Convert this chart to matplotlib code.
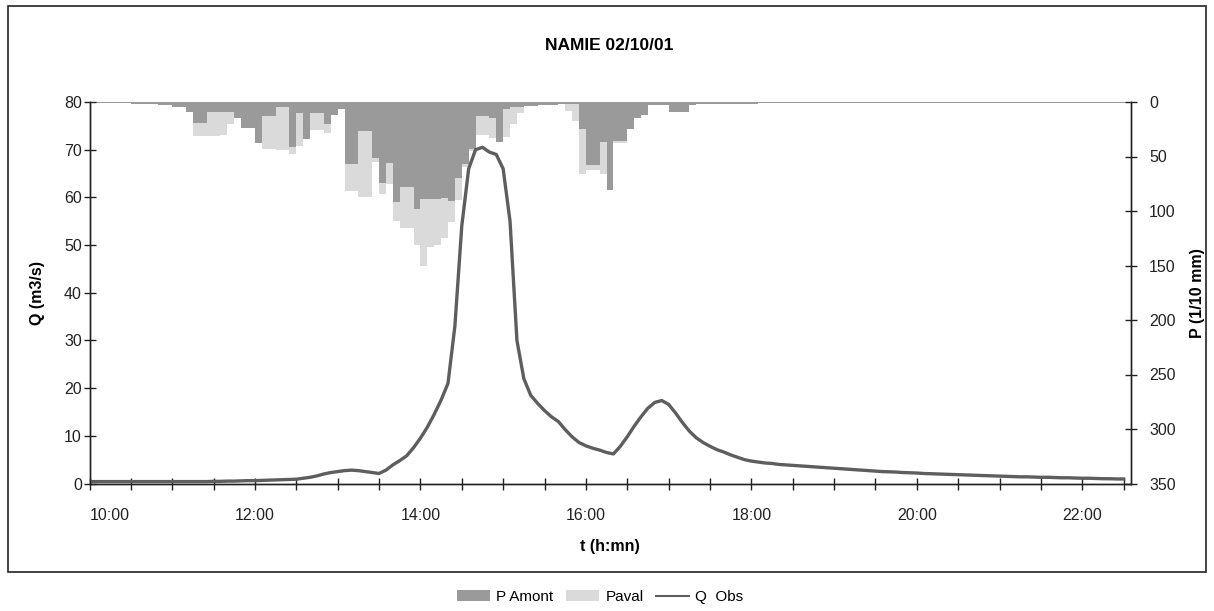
import numpy as np
import matplotlib
matplotlib.use('Agg')
import matplotlib.pyplot as plt
from matplotlib.patches import Rectangle, Patch
from matplotlib.lines import Line2D
from matplotlib.ticker import MultipleLocator

plt.rcParams['font.family'] = ['Liberation Sans', 'DejaVu Sans']

# ---------------- data (5-minute steps from 10:00) ----------------
STEP_MIN = 5
START_HOUR = 10

p_amont = ([1] * 6 + [2, 2, 2, 2, 3, 3] + [5, 5, 9] + [19, 19] + [9, 9, 9, 9] + [15]
           + [24, 24] + [38] + [13, 13] + [5, 5] + [41] + [10] + [34] + [10, 10] + [20]
           + [12] + [6] + [57, 57] + [27, 27] + [51] + [74] + [56] + [92] + [78, 78]
           + [98] + [89, 89, 89] + [88] + [91] + [70] + [57] + [43] + [13, 13, 15] + [37]
           + [6, 5, 5] + [4, 4, 3, 3, 3, 2, 2, 2] + [25] + [58, 58] + [37] + [81]
           + [36, 36] + [25] + [15] + [12] + [3, 3, 3] + [9, 9, 9]
           + [3, 2, 2, 2, 2, 2, 1.5, 1.5, 1.5, 1.5] + [1] * 54)

p_aval = ([0, 0, 0, 0, 0, 0, 1, 1, 1, 1, 1, 1, 2, 2, 5] + [31, 31] + [31, 31, 30, 20]
          + [15] + [24, 24] + [38] + [43, 43] + [44, 44] + [48] + [40] + [34] + [26, 26]
          + [28] + [12] + [6] + [82, 82] + [87, 87] + [55] + [84] + [75] + [109]
          + [116, 116] + [131] + [150] + [133] + [131] + [125] + [110] + [90] + [60]
          + [45] + [30, 30, 33] + [37] + [32, 20, 10] + [2, 2, 2, 2, 2, 2, 8, 17] + [66]
          + [62, 62] + [66] + [60] + [38, 38] + [20] + [10] + [5] + [2, 2, 2] + [5, 5, 5]
          + [1] * 10 + [0.5] * 54)

q_obs = ([0.4] * 18 + [0.45, 0.45, 0.5, 0.5, 0.55, 0.6]
         + [0.6, 0.65, 0.7, 0.75, 0.8, 0.85, 0.9, 1.1, 1.3, 1.6, 2.0, 2.3]
         + [2.5, 2.7, 2.8, 2.7, 2.5, 2.3, 2.1, 2.8, 3.9, 4.8, 5.8, 7.5]
         + [9.5, 11.8, 14.5, 17.5, 21, 33, 54, 66, 70, 70.5, 69.5, 69]
         + [66, 55, 30, 22, 18.5, 16.8, 15.3, 14, 13, 11.3, 9.8, 8.6]
         + [7.9, 7.4, 7.0, 6.5, 6.2, 7.8, 9.8, 12, 14, 15.8, 17, 17.4]
         + [16.6, 14.8, 12.8, 11, 9.6, 8.6, 7.8, 7.1, 6.6, 6.0, 5.5, 5.0]
         + [4.7, 4.5, 4.3, 4.2, 4.0, 3.9, 3.8, 3.7, 3.6, 3.5, 3.4, 3.3]
         + [3.2, 3.1, 3.0, 2.9, 2.8, 2.7, 2.6, 2.5, 2.45, 2.4, 2.3, 2.25]
         + [2.2, 2.1, 2.05, 2.0, 1.95, 1.9, 1.85, 1.8, 1.75, 1.7, 1.65, 1.6]
         + [1.55, 1.5, 1.45, 1.4, 1.4, 1.35, 1.3, 1.3, 1.25, 1.2, 1.2, 1.15]
         + [1.1, 1.1, 1.05, 1.0, 1.0, 0.95, 0.95])

t_min = np.arange(len(q_obs)) * STEP_MIN

x_tick_labels = ["10:00", "12:00", "14:00", "16:00", "18:00", "20:00", "22:00"]
title = "NAMIE 02/10/01"
q_label = "Q (m3/s)"
p_label = "P (1/10 mm)"
t_label = "t (h:mn)"
legend_labels = ["P Amont", "Paval", "Q  Obs"]

# ---------------- figure ----------------
W, H = 1214, 611
fig = plt.figure(figsize=(W / 100, H / 100), dpi=100)
fig.patch.set_facecolor('white')

L, R, T, B = 89.5, 1130.5, 102, 483.5
ax1 = fig.add_axes([L / W, 1 - B / H, (R - L) / W, (B - T) / H])
ax2 = ax1.twinx()

dark = '#9a9a9a'
light = '#dadada'
line_c = '#5e5e5e'

ax2.bar(t_min, p_aval, width=STEP_MIN, align='edge', color=light, linewidth=0)
ax2.bar(t_min, p_amont, width=STEP_MIN, align='edge', color=dark, linewidth=0)
ax2.set_ylim(350, 0)
ax2.yaxis.set_major_locator(MultipleLocator(50))

ax1.plot(t_min, q_obs, color=line_c, linewidth=2.4, solid_joinstyle='round')
ax1.set_zorder(ax2.get_zorder() + 1)
ax1.patch.set_visible(False)
ax1.set_ylim(0, 80)
ax1.yaxis.set_major_locator(MultipleLocator(10))
ax1.set_xlim(0, 755)
ax1.set_xticks([i * 120 for i in range(len(x_tick_labels))])
ax1.set_xticklabels(x_tick_labels)
ax1.xaxis.set_minor_locator(MultipleLocator(30))
ax1.get_xticklabels()[0].set_horizontalalignment('left')

for ax in (ax1, ax2):
    ax.spines['top'].set_visible(False)
    for s in ax.spines.values():
        s.set_color('#222222')
        s.set_linewidth(1.0)

ax1.tick_params(axis='x', which='both', direction='inout', length=9, width=1,
                labelsize=11.5, pad=13, colors='#222222')
ax1.tick_params(axis='y', direction='inout', length=9, width=1, labelsize=11.5, pad=1,
                colors='#222222')
ax2.tick_params(axis='y', direction='inout', length=9, width=1, labelsize=11.5, pad=9,
                colors='#222222')

ax1.set_ylabel(q_label, fontsize=11.5, fontweight='bold', labelpad=14)
ax2.set_ylabel(p_label, fontsize=11.5, fontweight='bold', labelpad=10)
ax1.set_xlabel(t_label, fontsize=11.5, fontweight='bold', labelpad=12)

fig.text(609 / W, 1 - 45 / H, title, ha='center', va='center', fontsize=12.5,
         fontweight='bold')

# outer frame
fig.patches.append(Rectangle((8 / W, 1 - 572 / H), (1206 - 8) / W, (572 - 6) / H,
                             transform=fig.transFigure, fill=False,
                             edgecolor='#222222', linewidth=1.2))

handles = [Patch(facecolor=dark, edgecolor='none'),
           Patch(facecolor=light, edgecolor='none'),
           Line2D([0], [0], color=line_c, linewidth=1.5)]
fig.legend(handles, legend_labels, loc='center', bbox_to_anchor=(600 / W, 1 - 597 / H),
           ncol=3, frameon=False, fontsize=11, handlelength=2.2, handleheight=0.7,
           columnspacing=0.8, handletextpad=0.4)

fig.savefig('out.png', dpi=100)
